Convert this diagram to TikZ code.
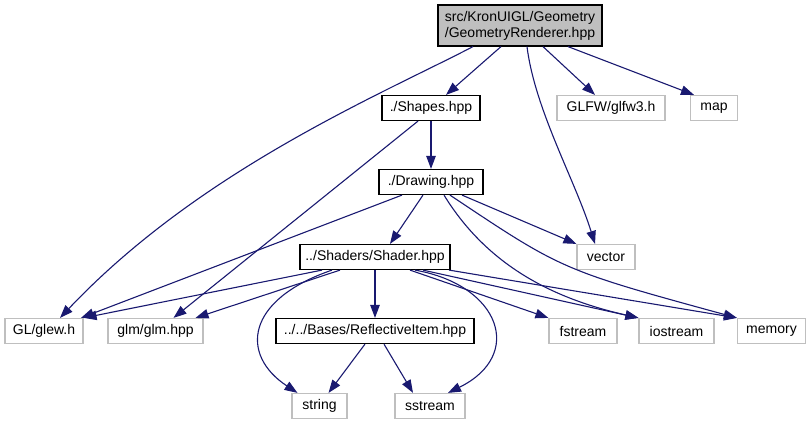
\documentclass[tikz,border=0pt]{standalone}
\usepackage{fontspec}
\setmainfont{Liberation Sans}
\usepackage{xcolor}
\usepackage{tikz}
\usetikzlibrary{arrows.meta}
\definecolor{edgeblue}{HTML}{191970}
\definecolor{sysgray}{HTML}{BFBFBF}
\definecolor{rootfill}{HTML}{BFBFBF}
\tikzset{
  hdr/.style     = {rectangle, draw=black, line width=1.2pt, fill=white,
                    inner sep=0pt, minimum height=25pt, align=center,
                    font=\fontsize{14pt}{16pt}\selectfont},
  sys/.style     = {hdr, draw=sysgray},
  rootbox/.style = {hdr, fill=rootfill, minimum height=41pt},
  ar/.style      = {-{Triangle[length=13pt,width=9.5pt]}, line width=1.1pt, draw=edgeblue},
}

\begin{document}
\begin{tikzpicture}[x=1pt, y=-1pt]
  \useasboundingbox (0,0) rectangle (810,425);

  % files of the project
  \node[rootbox, minimum width=164pt] (geomrenderer) at (520,25.5) {src/KronUIGL/Geometry\\/GeometryRenderer.hpp};
  \node[hdr, minimum width=98pt]  (shapes)     at (431,108) {./Shapes.hpp};
  \node[hdr, minimum width=104pt] (drawing)    at (431,182) {./Drawing.hpp};
  \node[hdr, minimum width=150pt] (shader)     at (375,257) {../Shaders/Shader.hpp};
  \node[hdr, minimum width=198pt] (reflective) at (375,331) {../../Bases/ReflectiveItem.hpp};

  % system headers
  \node[sys, minimum width=108pt] (glfw)     at (611,108)   {GLFW/glfw3.h};
  \node[sys, minimum width=47pt]  (map)      at (714,108)   {map};
  \node[sys, minimum width=58pt]  (vector)   at (606,257)   {vector};
  \node[sys, minimum width=78pt]  (glew)     at (44,331)    {GL/glew.h};
  \node[sys, minimum width=95pt]  (glm)      at (155.5,331) {glm/glm.hpp};
  \node[sys, minimum width=68pt]  (fstream)  at (583,331)   {fstream};
  \node[sys, minimum width=75pt]  (iostream) at (676.5,331) {iostream};
  \node[sys, minimum width=68pt]  (memory)   at (771.5,331) {memory};
  \node[sys, minimum width=55pt]  (string)   at (319.5,406) {string};
  \node[sys, minimum width=70pt]  (sstream)  at (430,406)   {sstream};

  % GeometryRenderer.hpp
  \draw[ar] ([xshift=-47pt]geomrenderer.south) .. controls (380,95) and (200,170) .. ([xshift=16pt]glew.north);
  \draw[ar] ([xshift=-19pt]geomrenderer.south) -- ([xshift=15pt]shapes.north);
  \draw[ar] ([xshift=7pt]geomrenderer.south) .. controls (535,110) and (575,180) .. ([xshift=-11pt]vector.north);
  \draw[ar] ([xshift=23pt]geomrenderer.south) -- ([xshift=-16pt]glfw.north);
  \draw[ar] ([xshift=48pt]geomrenderer.south) -- ([xshift=-20pt]map.north);

  % Shapes.hpp
  \draw[ar] (shapes.south) -- (drawing.north);
  \draw[ar] ([xshift=-13pt]shapes.south) -- ([xshift=18pt]glm.north);

  % Drawing.hpp
  \draw[ar] ([xshift=-29pt]drawing.south) -- ([xshift=37pt]glew.north);
  \draw[ar] ([xshift=-8pt]drawing.south) -- ([xshift=15pt]shader.north);
  \draw[ar] ([xshift=31pt]drawing.south) -- (vector.north west);
  \draw[ar] ([xshift=13pt]drawing.south) .. controls (490,270) and (560,300) .. (iostream.north west);
  \draw[ar] ([xshift=19pt]drawing.south) .. controls (562,270) .. (memory.north west);

  % Shader.hpp
  \draw[ar] ([xshift=-53pt]shader.south) -- (glew.north east);
  \draw[ar] ([xshift=-35pt]shader.south) -- ([xshift=40pt]glm.north);
  \draw[ar] ([xshift=-43pt]shader.south) .. controls (245,300) and (240,355) .. ([xshift=-22pt]string.north);
  \draw[ar] (shader.south) -- (reflective.north);
  \draw[ar] ([xshift=40pt]shader.south) .. controls (500,285) and (525,355) .. ([xshift=18pt]sstream.north);
  \draw[ar] ([xshift=35pt]shader.south) -- (fstream.north west);
  \draw[ar] ([xshift=48pt]shader.south) -- (iostream.north west);
  \draw[ar] ([xshift=74pt]shader.south) -- (memory.north west);

  % ReflectiveItem.hpp
  \draw[ar] ([xshift=-10pt]reflective.south) -- ([xshift=9pt]string.north);
  \draw[ar] ([xshift=9pt]reflective.south) -- ([xshift=-17pt]sstream.north);
\end{tikzpicture}
\end{document}
